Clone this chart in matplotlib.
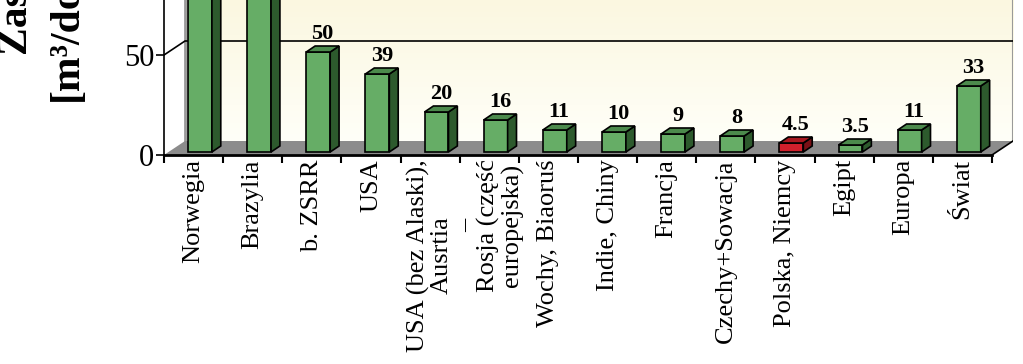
import matplotlib.pyplot as plt
from matplotlib.patches import Polygon
from matplotlib.colors import LinearSegmentedColormap
import numpy as np

plt.rcParams['font.family'] = ['Liberation Serif', 'DejaVu Serif']

kraje = ["Norwegia", "Brazylia", "b. ZSRR", "USA", "USA (bez Alaski),\nAusrtia",
         "–\nRosja (część\neuropejska)", "Wochy, Biaoruś", "Indie, Chiny", "Francja",
         "Czechy+Sowacja", "Polska, Niemcy", "Egipt", "Europa", "Świat"]
wartosci = [250, 115, 50, 39, 20, 16, 11, 10, 9, 8, 4.5, 3.5, 11, 33]
wyrozniony = "Polska, Niemcy"
y_ticks = [0, 50]

# 3D look: depth of the floor and of a bar (data units)
DX, DY = 0.355, 7.0
BDX, BDY = 0.15, 3.0
Z0 = 1.5       # bar front sits a bit behind the front edge
XOFF = 0.405   # bar front face offset inside its cell
W = 0.405
YMAX = 77.5
n = len(kraje)

fig = plt.figure(figsize=(10.23, 3.64), dpi=100)
ax = fig.add_axes([164 / 1023, 1 - 155 / 364, 849 / 1023, 155 / 364])
ax.set_facecolor('none')

# back wall with a soft gradient
grad = np.linspace(0, 1, 100).reshape(-1, 1)
cm = LinearSegmentedColormap.from_list('wall', ['#fffff8', '#fbf7e0'])
ax.imshow(grad, extent=[DX, n + DX, DY, YMAX], origin='lower', cmap=cm,
          aspect='auto', zorder=0)
ax.plot([DX, DX], [DY, YMAX], color='#9a9a9a', lw=2, zorder=1)
ax.plot([n + DX, n + DX], [DY, YMAX], color='#9a9a9a', lw=1.5, zorder=1)

# gridline at 50 on the side and back wall
for t in y_ticks[1:]:
    ax.plot([0, DX, n + DX], [t, t + DY, t + DY], color='black', lw=1.2, zorder=1)

# floor
floor = Polygon([[0, 0], [n, 0], [n + DX, DY], [DX, DY]], closed=True,
                facecolor='#8c8c8c', edgecolor='none', zorder=2)
ax.add_patch(floor)
ax.plot([n, n + DX], [0, DY], color='black', lw=1.2, zorder=2)

# bars
for i, (k, v) in enumerate(zip(kraje, wartosci)):
    if k == wyrozniony:
        front, side, top = '#d0202c', '#7a1016', '#a8181f'
    else:
        front, side, top = '#66ad66', '#2d5a2d', '#4c8a4c'
    x0 = i + XOFF
    h = Z0 + v
    ax.bar(x0, v, width=W, bottom=Z0, align='edge', color=front,
           edgecolor='black', lw=1.2, zorder=3)
    ax.add_patch(Polygon([[x0 + W, Z0], [x0 + W + BDX, Z0 + BDY],
                          [x0 + W + BDX, h + BDY], [x0 + W, h]],
                         closed=True, facecolor=side, edgecolor='black', lw=1.2, zorder=3))
    ax.add_patch(Polygon([[x0, h], [x0 + W, h], [x0 + W + BDX, h + BDY], [x0 + BDX, h + BDY]],
                         closed=True, facecolor=top, edgecolor='black', lw=1.2, zorder=3))
    ax.text(x0 + (W + BDX) / 2, h + BDY + 3.5, f"{v:g}", ha='center', va='baseline',
            fontsize=16, fontweight='bold', zorder=4)

ax.set_xlim(0, n + DX)
ax.set_ylim(0, YMAX)

for s in ['top', 'right']:
    ax.spines[s].set_visible(False)
ax.spines['bottom'].set_bounds(0, n)
ax.spines['bottom'].set_linewidth(2)
ax.spines['bottom'].set_zorder(5)
ax.spines['left'].set_linewidth(1.2)

ax.set_yticks(y_ticks)
ax.tick_params(axis='y', length=6, width=1.2, labelsize=22, pad=1)
ax.set_xticks(np.arange(n + 1))
ax.set_xticklabels([])
ax.tick_params(axis='x', which='major', length=6, width=1.5)
ax.set_xticks(np.arange(n) + 0.5, minor=True)
ax.set_xticklabels(kraje, minor=True, rotation=90, fontsize=19, va='top', ha='center')
ax.tick_params(axis='x', which='minor', length=0, pad=3)
for lbl in ax.get_xticklabels(minor=True):
    lbl.set_multialignment('center')
    lbl.set_linespacing(1.05)

# y axis title (mostly cut off at the top of the picture)
fig.text(27 / 1023, 1 - 55 / 364, "Zasoby wodne", rotation=90, rotation_mode='anchor',
         ha='left', va='baseline', fontsize=30, fontweight='bold')
fig.text(77 / 1023, 1 - 101 / 364, "[m³/dobę·mieszkańca]", rotation=90, rotation_mode='anchor',
         ha='left', va='baseline', fontsize=30, fontweight='bold')

fig.savefig('out.png', dpi=100)
